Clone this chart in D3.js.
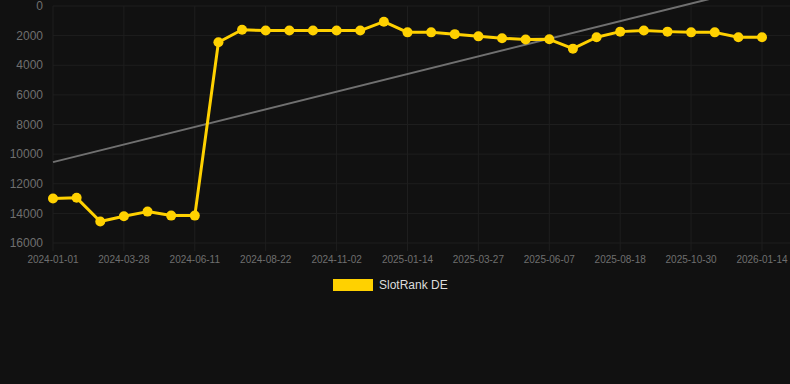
<!DOCTYPE html>
<html lang="en">
<head>
    <meta charset="UTF-8">
    <title>SlotRank DE</title>
    <script src="https://cdn.jsdelivr.net/npm/d3@7/dist/d3.min.js"></script>
    <style>
        body { margin: 0; background: #111111; }
        svg { display: block; font-family: "Liberation Sans", Arial, sans-serif; }
    </style>
</head>
<body>
    <div id="chart"></div>
    <script>
    // dates for each point (only every third one is labelled on the axis)
    const dates = [
        "2024-01-01", "2024-01-30", "2024-02-28", "2024-03-28", "2024-04-22", "2024-05-17",
        "2024-06-11", "2024-07-05", "2024-07-29", "2024-08-22", "2024-09-15", "2024-10-09",
        "2024-11-02", "2024-11-26", "2024-12-21", "2025-01-14", "2025-02-07", "2025-03-03",
        "2025-03-27", "2025-04-20", "2025-05-14", "2025-06-07", "2025-07-01", "2025-07-25",
        "2025-08-18", "2025-09-11", "2025-10-06", "2025-10-30", "2025-11-24", "2025-12-19",
        "2026-01-14"
    ];
    const rank = [
        13000, 12950, 14550, 14200, 13880, 14150, 14150, 2450, 1600, 1660, 1660, 1660,
        1660, 1660, 1060, 1780, 1780, 1900, 2050, 2180, 2260, 2250, 2880, 2110, 1730,
        1660, 1730, 1780, 1780, 2110, 2110
    ];
    const yTicks = [0, 2000, 4000, 6000, 8000, 10000, 12000, 14000, 16000];
    const seriesName = "SlotRank DE";

    const width = 790, height = 384;
    const margin = { top: 6, right: 0, bottom: 141, left: 53 };
    const lastX = 762;

    const svg = d3.select("#chart").append("svg")
        .attr("width", width)
        .attr("height", height);

    svg.append("rect").attr("width", width).attr("height", height).attr("fill", "#111111");

    const x = d3.scalePoint().domain(dates).range([margin.left, lastX]);
    const y = d3.scaleLinear().domain([0, 16000]).range([margin.top, height - margin.bottom]);

    // grid
    svg.append("g").selectAll("line")
        .data(yTicks)
        .join("line")
        .attr("x1", margin.left).attr("x2", width)
        .attr("y1", d => y(d)).attr("y2", d => y(d))
        .attr("stroke", "#1e1e1e").attr("stroke-width", 1);

    const shown = dates.filter((d, i) => i % 3 === 0);
    svg.append("g").selectAll("line")
        .data(shown)
        .join("line")
        .attr("x1", d => x(d)).attr("x2", d => x(d))
        .attr("y1", margin.top).attr("y2", y(16000) + 8)
        .attr("stroke", "#1e1e1e").attr("stroke-width", 1);

    // y labels
    svg.append("g").selectAll("text")
        .data(yTicks)
        .join("text")
        .attr("x", 43).attr("y", d => y(d))
        .attr("dy", "0.35em")
        .attr("text-anchor", "end")
        .attr("font-size", 12)
        .attr("fill", "#6f6f6f")
        .text(d => d);

    // x labels
    svg.append("g").selectAll("text")
        .data(shown)
        .join("text")
        .attr("x", d => x(d)).attr("y", 259)
        .attr("dy", "0.35em")
        .attr("text-anchor", "middle")
        .attr("font-size", 10)
        .attr("fill", "#6f6f6f")
        .text(d => d);

    // trend line (least squares over the series)
    const n = rank.length;
    const mx = d3.mean(rank, (d, i) => i), my = d3.mean(rank);
    const slope = d3.sum(rank, (d, i) => (i - mx) * (d - my)) / d3.sum(rank, (d, i) => (i - mx) * (i - mx));
    const icpt = my - slope * mx;
    svg.append("line")
        .attr("x1", x(dates[0])).attr("y1", y(icpt))
        .attr("x2", x(dates[n - 1])).attr("y2", y(icpt + slope * (n - 1)))
        .attr("stroke", "#707070").attr("stroke-width", 2);

    // series
    const line = d3.line()
        .x((d, i) => x(dates[i]))
        .y(d => y(d));
    svg.append("path")
        .datum(rank)
        .attr("d", line)
        .attr("fill", "none")
        .attr("stroke", "#FFD100")
        .attr("stroke-width", 3)
        .attr("stroke-linejoin", "round");

    svg.append("g").selectAll("circle")
        .data(rank)
        .join("circle")
        .attr("cx", (d, i) => x(dates[i]))
        .attr("cy", d => y(d))
        .attr("r", 5)
        .attr("fill", "#FFD100");

    // legend
    svg.append("rect")
        .attr("x", 333).attr("y", 279)
        .attr("width", 40).attr("height", 12)
        .attr("fill", "#FFD100");
    svg.append("text")
        .attr("x", 379).attr("y", 285)
        .attr("dy", "0.35em")
        .attr("font-size", 12)
        .attr("fill", "#dddddd")
        .text(seriesName);
    </script>
</body>
</html>
